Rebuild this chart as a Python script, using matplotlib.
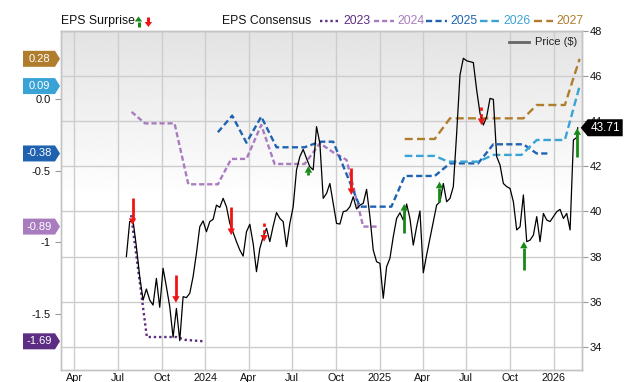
import numpy as np
import pandas as pd
import matplotlib
matplotlib.use('Agg')
import matplotlib.pyplot as plt
import matplotlib.dates as mdates
import matplotlib.transforms as mtransforms
from matplotlib.patches import Polygon
from matplotlib.lines import Line2D

plt.rcParams['font.family'] = ['Liberation Sans', 'DejaVu Sans']

# ---------------- data ----------------
price_start = '2023-07-19'
price_values = [
    38.00, 39.55, 39.59, 38.44, 37.11, 36.07, 36.56, 36.07, 35.85, 37.03,
    35.75, 37.48, 36.66, 35.78, 34.42, 35.70, 34.27, 36.22, 36.18, 36.37,
    37.11, 38.14, 39.32, 39.58, 39.10, 39.55, 39.65, 40.28, 40.18, 40.58,
    40.21, 39.47, 39.06, 38.66, 38.29, 38.02, 39.10, 39.43, 38.58, 37.33,
    38.36, 38.88, 39.25, 38.66, 39.35, 39.95, 39.69, 39.55, 38.44, 39.47,
    40.21, 41.84, 42.43, 42.75, 42.35, 41.98, 41.84, 43.76, 43.02, 40.58,
    40.80, 41.24, 40.36, 39.47, 39.44, 39.99, 40.03, 40.21, 40.65, 40.11,
    40.28, 40.36, 40.98, 39.77, 38.29, 37.77, 37.70,
    36.15, 37.55, 37.92, 38.88, 39.69, 39.94, 39.62, 40.33, 39.69, 38.51,
    39.32, 40.02, 37.28, 38.07, 38.81, 39.55, 40.28, 40.43, 41.24, 40.43,
    40.58, 41.10, 43.46, 46.05, 46.79, 46.68, 46.64, 46.60, 45.38, 44.35,
    43.83, 44.20, 45.01, 44.97, 42.43, 42.06, 41.24, 41.10, 41.02, 40.43,
    39.18, 39.32, 40.73, 38.66, 38.73, 38.95, 39.77, 38.66, 39.91, 39.62,
    39.55, 39.77, 39.99, 40.09, 39.69, 39.91, 39.18, 43.17, 43.28,
]
price_last_date = '2026-02-20'
price_last = 43.71

eps_2023_dates = ['2023-07-29', '2023-08-31', '2023-11-01', '2023-11-20', '2023-12-29']
eps_2023 = [-0.81, -1.66, -1.66, -1.68, -1.69]

eps_2024_dates = ['2023-07-30', '2023-08-27', '2023-10-28', '2023-11-26', '2024-01-27',
                  '2024-02-24', '2024-03-27', '2024-04-27', '2024-05-25', '2024-07-27',
                  '2024-08-28', '2024-09-25', '2024-10-23', '2024-11-27', '2024-12-29']
eps_2024 = [-0.09, -0.17, -0.17, -0.595, -0.595, -0.418, -0.418, -0.181, -0.453, -0.453,
            -0.309, -0.372, -0.425, -0.89, -0.89]

eps_2025_dates = ['2024-01-27', '2024-02-26', '2024-03-27', '2024-04-27', '2024-05-29',
                  '2024-07-27', '2024-08-28', '2024-09-25', '2024-11-20', '2025-01-25',
                  '2025-02-22', '2025-04-26', '2025-05-28', '2025-07-26', '2025-08-27',
                  '2025-10-29', '2025-11-26', '2025-12-24']
eps_2025 = [-0.232, -0.116, -0.305, -0.123, -0.337, -0.337, -0.298, -0.298, -0.751, -0.751,
            -0.537, -0.537, -0.449, -0.449, -0.316, -0.316, -0.38, -0.38]

eps_2026_dates = ['2025-02-22', '2025-04-26', '2025-05-24', '2025-07-26', '2025-08-27',
                  '2025-10-25', '2025-11-26', '2026-01-24', '2026-02-24']
eps_2026 = [-0.397, -0.397, -0.437, -0.437, -0.39, -0.39, -0.286, -0.286, 0.09]

eps_2027_dates = ['2025-02-22', '2025-04-26', '2025-05-28', '2025-10-29', '2025-11-26',
                  '2026-01-24', '2026-02-24']
eps_2027 = [-0.279, -0.279, -0.135, -0.135, -0.042, -0.042, 0.28]

surprise_dates = ['2023-08-01', '2023-10-31', '2024-02-24', '2024-05-03', '2024-08-04',
                  '2024-11-02', '2025-02-21', '2025-05-06', '2025-08-02', '2025-10-30',
                  '2026-02-19']
surprise_from = [40.58, 37.18, 40.18, 39.47, 41.61, 41.91, 39.06, 40.43, 44.64, 37.40, 42.40]
surprise_to = [39.40, 35.95, 38.95, 38.66, 42.01, 40.73, 40.33, 41.32, 43.83, 38.66, 43.69]
surprise_dotted = [False, False, False, True, False, False, False, False, True, False, False]

years = ['2023', '2024', '2025', '2026', '2027']
year_colors = ['#5c2d82', '#a97cc0', '#1f63b0', '#3aa3d6', '#b07d2e']
badge_values = [-1.69, -0.89, -0.38, 0.09, 0.28]

eps_ticks = [0.0, -0.5, -1.0, -1.5]
eps_tick_labels = ['0.0', '-0.5', '-1', '-1.5']
price_ticks = [34, 36, 38, 40, 42, 44, 46, 48]
x_tick_dates = ['2023-04-01', '2023-07-01', '2023-10-01', '2024-01-01', '2024-04-01',
                '2024-07-01', '2024-10-01', '2025-01-01', '2025-04-01', '2025-07-01',
                '2025-10-01', '2026-01-01']
x_tick_labels = ['Apr', 'Jul', 'Oct', '2024', 'Apr', 'Jul', 'Oct', '2025', 'Apr', 'Jul',
                 'Oct', '2026']

# ---------------- figure ----------------
W, H = 640, 382
fig = plt.figure(figsize=(W / 100, H / 100), dpi=100)
pos = [60.6 / W, 12 / H, (582 - 60.6) / W, (370 - 31) / H]

xlim = (mdates.date2num(pd.Timestamp('2023-03-03')), mdates.date2num(pd.Timestamp('2026-03-01')))
price_lim = (32.97, 48.0)
eps_lim = (-1.890, 0.474)

ax_bg = fig.add_axes(pos)
ax_eps = ax_bg.twinx()
ax_top = fig.add_axes(pos, sharex=ax_bg, sharey=ax_bg)

# background gradient
grad = np.concatenate([np.linspace(0.89, 1.0, 60), np.ones(60)])[:, None]
ax_bg.imshow(grad, extent=[0, 1, 0, 1], transform=ax_bg.transAxes, aspect='auto',
             cmap='gray', vmin=0, vmax=1, zorder=0, origin='upper', interpolation='bilinear')

ax_bg.set_xlim(*xlim)
ax_bg.set_ylim(*price_lim)
ax_eps.set_ylim(*eps_lim)

# grid
tick_nums = [mdates.date2num(pd.Timestamp(d)) for d in x_tick_dates]
for t in tick_nums:
    ax_bg.axvline(t, color='#cdcdcd', lw=1, zorder=1)
for p in price_ticks:
    ax_bg.axhline(p, color='#cdcdcd', lw=1, zorder=1)

# ticks
ax_bg.yaxis.tick_right()
ax_bg.set_yticks(price_ticks)
ax_bg.set_yticklabels([str(p) for p in price_ticks])
ax_bg.tick_params(axis='y', which='both', right=True, left=False, length=4.5, width=0.8,
                  color='#999999', pad=1.2, labelsize=8, labelcolor='#111111')
ax_bg.set_xticks(tick_nums)
ax_bg.set_xticklabels(x_tick_labels)
ax_bg.tick_params(axis='x', length=0, pad=2.5, labelsize=7.8, labelcolor='#111111')

ax_eps.yaxis.tick_left()
ax_eps.set_yticks(eps_ticks)
ax_eps.set_yticklabels(eps_tick_labels)
ax_eps.tick_params(axis='y', left=True, right=False, length=4.5, width=0.8,
                   color='#999999', pad=2.5, labelsize=8, labelcolor='#111111')
ax_eps.patch.set_visible(False)

for a in (ax_bg, ax_eps):
    for s in a.spines.values():
        s.set_color('#c4c4c4')
        s.set_linewidth(1)

ax_top.axis('off')
ax_top.patch.set_visible(False)

# EPS consensus lines
styles = [(0, (1, 1.2)), (0, (2.2, 1.2)), (0, (2.6, 1.4)), (0, (3.2, 1.6)), (0, (3.4, 1.8))]
eps_series = [(eps_2023_dates, eps_2023), (eps_2024_dates, eps_2024), (eps_2025_dates, eps_2025),
              (eps_2026_dates, eps_2026), (eps_2027_dates, eps_2027)]
for (d, v), c, ls in zip(eps_series, year_colors, styles):
    ax_eps.plot(pd.to_datetime(d), v, color=c, lw=1.7, linestyle=ls, zorder=3)
ax_eps.set_xlim(*xlim)

# price line
pdates = list(pd.date_range(price_start, periods=len(price_values), freq='7D')) + [pd.Timestamp(price_last_date)]
pvals = list(price_values) + [price_last]
ax_top.plot(pdates, pvals, color='black', lw=0.9, zorder=4)
ax_top.set_xlim(*xlim)
ax_top.set_ylim(*price_lim)

# surprise arrows
px_per_unit = (pos[3] * H) / (price_lim[1] - price_lim[0])
for d, y0, y1, dotted in zip(surprise_dates, surprise_from, surprise_to, surprise_dotted):
    x = mdates.date2num(pd.Timestamp(d))
    down = y1 < y0
    col = '#f01515' if down else '#168a16'
    head_len = 6.0
    yb = y1 + (head_len / px_per_unit if down else -head_len / px_per_unit)
    ax_top.plot([x, x], [y0, yb], color=col, lw=2.0, solid_capstyle='butt',
                linestyle=(0, (1.2, 1.2)) if dotted else '-', zorder=5)
    tr = fig.dpi_scale_trans + mtransforms.ScaledTranslation(x, y1, ax_top.transData)
    s = 1 if down else -1
    tri = Polygon([(-0.037, s * 0.066), (0.037, s * 0.066), (0, 0)], closed=True,
                  transform=tr, facecolor=col, edgecolor='none', zorder=6, clip_on=False)
    ax_top.add_patch(tri)

# left badges
for val, col in zip(badge_values, year_colors):
    anchor = mtransforms.blended_transform_factory(fig.transFigure, ax_eps.transData)
    tr = fig.dpi_scale_trans + mtransforms.ScaledTranslation(60 / W, val, anchor)
    poly = Polygon([(-0.37, -0.08), (-0.05, -0.08), (0, 0), (-0.05, 0.08), (-0.37, 0.08)],
                   closed=True, transform=tr, facecolor=col, edgecolor='none', clip_on=False)
    fig.add_artist(poly)
    fig.text(-0.205, 0, f'{val:.2f}', transform=tr, color='white', fontsize=8,
             ha='center', va='center')

# right price badge
anchor = mtransforms.blended_transform_factory(fig.transFigure, ax_top.transData)
tr = fig.dpi_scale_trans + mtransforms.ScaledTranslation(580.7 / W, price_last, anchor)
poly = Polygon([(0, 0), (0.07, 0.085), (0.42, 0.085), (0.42, -0.085), (0.07, -0.085)],
               closed=True, transform=tr, facecolor='black', edgecolor='none', clip_on=False)
fig.add_artist(poly)
fig.text(0.245, 0, f'{price_last:.2f}', transform=tr, color='white', fontsize=8.5,
         ha='center', va='center')

# top legend
ly = 1 - 21 / H
fig.text(60.6 / W, ly, 'EPS Surprise', fontsize=8.8, color='#111111', va='center', ha='left')
fig.text(222.5 / W, ly, 'EPS Consensus', fontsize=8.8, color='#111111', va='center', ha='left')
# legend arrows (figure pixel coordinates / 100 = inches)
pix = fig.dpi_scale_trans
def fig_arrow(xc, up, col):
    top = (H - 16.5) / 100
    bot = (H - 27.0) / 100
    x = xc / 100
    if up:
        tip, base, tail = top, top - 0.05, bot
    else:
        tip, base, tail = bot, bot + 0.05, top
    fig.add_artist(Line2D([x, x], [tail, base], transform=pix, color=col, lw=2.2,
                          solid_capstyle='butt'))
    fig.add_artist(Polygon([(x - 0.037, base), (x + 0.037, base), (x, tip)],
                           closed=True, transform=pix, facecolor=col, edgecolor='none'))
fig_arrow(138.5, True, '#168a16')
fig_arrow(148.4, False, '#f01515')

leg_lines = [(320, 339), (374, 394), (426, 447), (480, 501), (534, 553)]
leg_text_x = [343, 397, 450, 503, 556]
for (x0, x1), tx, yr, c, ls in zip(leg_lines, leg_text_x, years, year_colors, styles):
    fig.add_artist(Line2D([x0 / W, x1 / W], [ly, ly], transform=fig.transFigure, color=c,
                          lw=1.7, linestyle=ls))
    fig.text(tx / W, ly, yr, fontsize=8.8, color=c, va='center', ha='left')

# price legend inside plot
py = 1 - 42 / H
fig.add_artist(Line2D([509 / W, 529 / W], [py, py], transform=fig.transFigure, color='#666666', lw=2))
fig.text(535 / W, py, 'Price ($)', fontsize=8, color='#222222', va='center', ha='left')

fig.savefig('out.png', dpi=100)
